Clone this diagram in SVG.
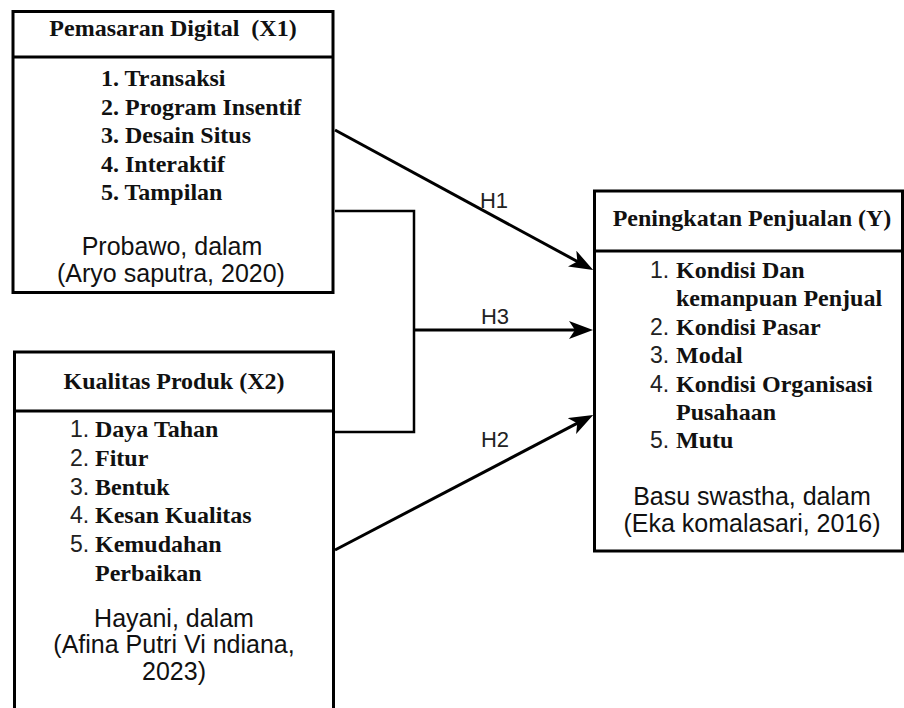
<svg xmlns="http://www.w3.org/2000/svg" width="904" height="708" viewBox="0 0 904 708">
<style>
.box{fill:#fff;stroke:#000;stroke-width:3}
.div{stroke:#000;stroke-width:3}
.t{font-family:"Liberation Serif","Times New Roman",serif;font-weight:bold;font-size:24px;fill:#111}
.c{text-anchor:middle}
.s{font-family:"Liberation Sans",Arial,sans-serif;font-size:25px;fill:#111}
.n{font-family:"Liberation Sans",Arial,sans-serif;font-size:23px;fill:#222}
.e{fill:none;stroke:#000;stroke-width:3}
.b{fill:none;stroke:#000;stroke-width:2.5}
.lbl{font-family:"Liberation Sans",Arial,sans-serif;font-size:22px;fill:#222;text-anchor:middle}
</style>
<defs>
<marker id="arr" markerUnits="userSpaceOnUse" viewBox="0 0 24 18" refX="17" refY="9" markerWidth="24" markerHeight="18" orient="auto">
<path d="M0,0 L24,9 L0,18 L6,9 Z" fill="#000"/>
</marker>
</defs>
<rect width="904" height="708" fill="#fff"/>
<g id="connectors">
<path class="e" d="M335,130 L587,266.7" marker-end="url(#arr)"/>
<path class="b" d="M335,211 L414,211 L414,432 L335,432"/>
<path class="e" d="M414,330 L586,330" marker-end="url(#arr)"/>
<path class="e" d="M335,550 L587,418.2" marker-end="url(#arr)"/>
<text class="lbl" x="494" y="208">H1</text>
<text class="lbl" x="495" y="324">H3</text>
<text class="lbl" x="495" y="447">H2</text>
</g>
<g id="x1">
<rect class="box" x="13" y="11.5" width="320" height="281"/>
<line class="div" x1="13" y1="57" x2="333" y2="57"/>
<text class="t c" x="173" y="36" style="white-space:pre" xml:space="preserve">Pemasaran Digital  (X1)</text>
<text class="t" x="101" y="86">1. Transaksi</text>
<text class="t" x="101" y="114.5">2. Program Insentif</text>
<text class="t" x="101" y="143">3. Desain Situs</text>
<text class="t" x="101" y="171.5">4. Interaktif</text>
<text class="t" x="101" y="200">5. Tampilan</text>
<text class="s c" x="172" y="255">Probawo, dalam</text>
<text class="s c" x="171" y="282">(Aryo saputra, 2020)</text>
</g>
<g id="x2">
<rect class="box" x="14.5" y="352" width="319" height="380"/>
<line class="div" x1="14.5" y1="411" x2="333.5" y2="411"/>
<text class="t c" x="174" y="389">Kualitas Produk (X2)</text>
<text class="n" x="70" y="437">1.</text><text class="t" x="95" y="437">Daya Tahan</text>
<text class="n" x="70" y="466">2.</text><text class="t" x="95" y="466">Fitur</text>
<text class="n" x="70" y="495">3.</text><text class="t" x="95" y="495">Bentuk</text>
<text class="n" x="70" y="523">4.</text><text class="t" x="95" y="523">Kesan Kualitas</text>
<text class="n" x="70" y="552">5.</text><text class="t" x="95" y="552">Kemudahan</text>
<text class="t" x="95" y="581">Perbaikan</text>
<text class="s c" x="174" y="627">Hayani, dalam</text>
<text class="s c" x="174" y="653">(Afina Putri Vi ndiana,</text>
<text class="s c" x="174" y="680">2023)</text>
</g>
<g id="y">
<rect class="box" x="594.5" y="191" width="308" height="360"/>
<line class="div" x1="594.5" y1="251" x2="902.5" y2="251"/>
<text class="t c" x="752" y="226">Peningkatan Penjualan (Y)</text>
<text class="n" x="650" y="278">1.</text><text class="t" x="676" y="278">Kondisi Dan</text>
<text class="t" x="676" y="306">kemanpuan Penjual</text>
<text class="n" x="650" y="335">2.</text><text class="t" x="676" y="335">Kondisi Pasar</text>
<text class="n" x="650" y="363">3.</text><text class="t" x="676" y="363">Modal</text>
<text class="n" x="650" y="392">4.</text><text class="t" x="676" y="392">Kondisi Organisasi</text>
<text class="t" x="676" y="420">Pusahaan</text>
<text class="n" x="650" y="448">5.</text><text class="t" x="676" y="448">Mutu</text>
<text class="s c" x="752" y="505">Basu swastha, dalam</text>
<text class="s c" x="752" y="532">(Eka komalasari, 2016)</text>
</g>
</svg>
